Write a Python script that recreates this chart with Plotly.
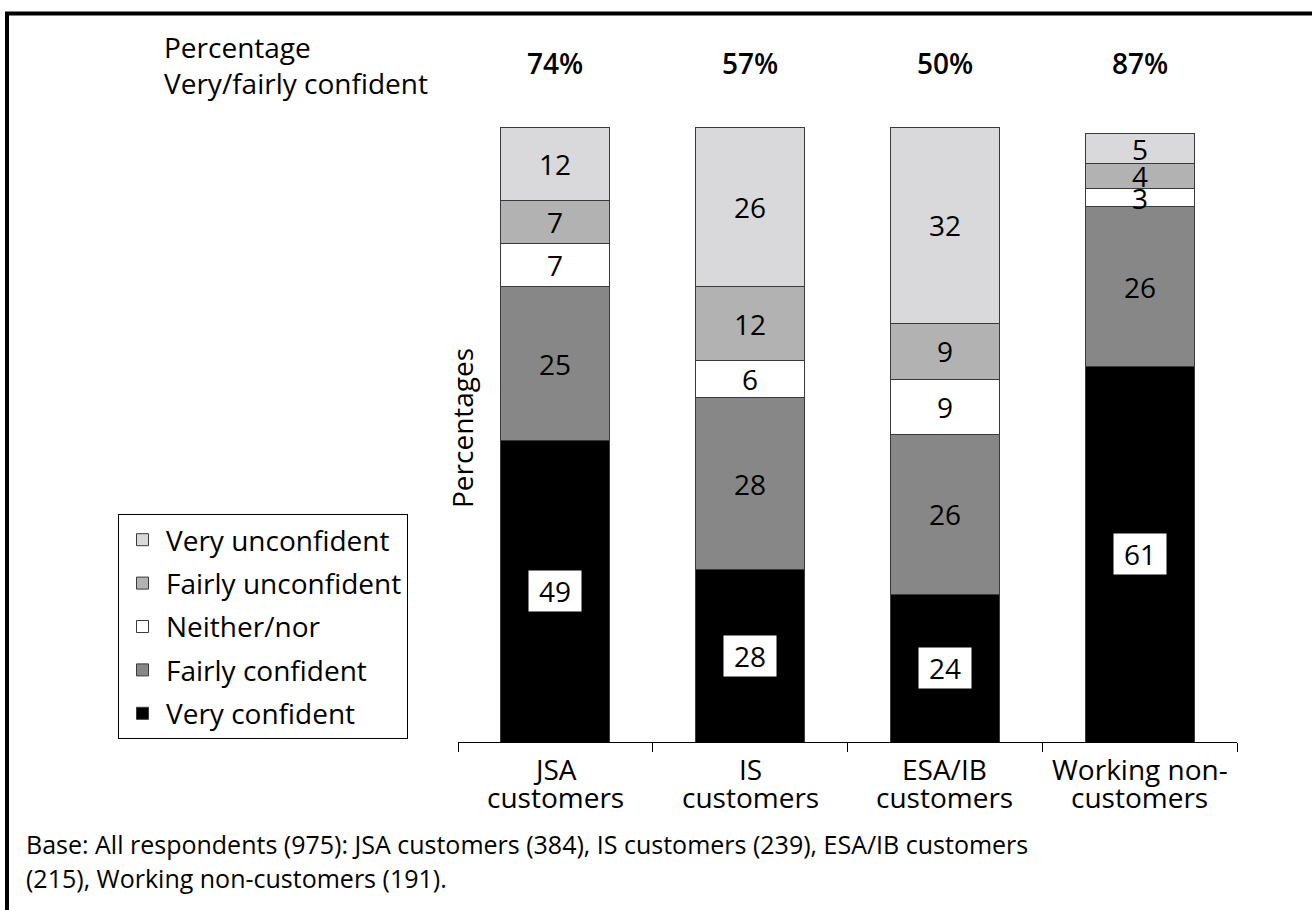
import numpy as np
import plotly.graph_objects as go

categories = ["JSA<br>customers", "IS<br>customers", "ESA/IB<br>customers", "Working non-<br>customers"]
series_names = ["Very confident", "Fairly confident", "Neither/nor", "Fairly unconfident", "Very unconfident"]
very_confident = [49, 28, 24, 61]
fairly_confident = [25, 28, 26, 26]
neither_nor = [7, 6, 9, 3]
fairly_unconfident = [7, 12, 9, 4]
very_unconfident = [12, 26, 32, 5]
top_labels = ["74%", "57%", "50%", "87%"]
top_title = "Percentage<br>Very/fairly confident"
y_title = "Percentages"
note_lines = ["Base: All respondents (975): JSA customers (384), IS customers (239), ESA/IB customers",
              "(215), Working non-customers (191)."]

series_values = [very_confident, fairly_confident, neither_nor, fairly_unconfident, very_unconfident]
colors = ["#000000", "#878787", "#ffffff", "#b2b2b2", "#d9d9db"]

FONT = "Open Sans"
FS = 28

# plot area in pixels
L, R, T, B = 458, 1237, 127, 742
W, H = R - L, B - T


def px(xp):
    return (xp - L) / W


def py(yp):
    return (B - yp) / H


fig = go.Figure()
n = len(series_names)
for i, (name, vals, col) in enumerate(zip(series_names, series_values, colors)):
    fig.add_trace(go.Bar(
        x=categories, y=vals, name=name,
        marker=dict(color=col, line=dict(color="#3a3a3a", width=1)),
        legendgroup=name, legendrank=100 + (n - i), hoverinfo="skip",
    ))

annotations = []
arr = np.array(series_values, dtype=float)
cum = np.cumsum(arr, axis=0)
for si in range(arr.shape[0]):
    for ci, cat in enumerate(categories):
        v = arr[si, ci]
        mid = cum[si, ci] - v / 2
        a = dict(x=cat, y=mid, xref="x", yref="y", text=str(int(v)), showarrow=False,
                 xanchor="center", yanchor="middle",
                 font=dict(family=FONT, size=FS, color="black"))
        if si == 0:
            a.update(bgcolor="white", width=48, height=36, borderpad=2)
        annotations.append(a)

# category labels (two lines each)
for cat in categories:
    l1, l2 = cat.split("<br>")
    annotations.append(dict(x=cat, y=py(769), xref="x", yref="paper", text=l1, showarrow=False,
                            xanchor="center", yanchor="middle", font=dict(family=FONT, size=FS, color="black")))
    annotations.append(dict(x=cat, y=py(797), xref="x", yref="paper", text=l2, showarrow=False,
                            xanchor="center", yanchor="middle", font=dict(family=FONT, size=FS, color="black")))

for ci, cat in enumerate(categories):
    annotations.append(dict(x=cat, y=py(63), xref="x", yref="paper", text=top_labels[ci], showarrow=False,
                            xanchor="center", yanchor="middle",
                            font=dict(family=FONT, size=FS, color="black", weight=600)))

annotations.append(dict(x=px(162), y=py(64.5), xref="paper", yref="paper", xanchor="left", yanchor="middle",
                        align="left", text=top_title, showarrow=False,
                        font=dict(family=FONT, size=FS, color="black")))
annotations.append(dict(x=px(462), y=py(428), xref="paper", yref="paper", text=y_title, textangle=-90,
                        xanchor="center", yanchor="middle",
                        showarrow=False, font=dict(family=FONT, size=FS, color="black")))
for k, yy in enumerate([844, 878]):
    annotations.append(dict(x=px(24), y=py(yy), xref="paper", yref="paper", xanchor="left", yanchor="middle",
                            align="left", text=note_lines[k], showarrow=False,
                            font=dict(family=FONT, size=25, color="black")))

shapes = [
    dict(type="line", xref="paper", yref="paper", x0=px(5), x1=px(1315),
         y0=py(13.5), y1=py(13.5), line=dict(color="black", width=4)),
    dict(type="line", xref="paper", yref="paper", x0=px(7), x1=px(7),
         y0=py(12), y1=py(915), line=dict(color="black", width=4)),
]

fig.update_layout(
    width=1312, height=910,
    margin=dict(l=L, r=1312 - R, t=T, b=910 - B),
    barmode="stack", bargap=0.44,
    plot_bgcolor="white", paper_bgcolor="white",
    font=dict(family=FONT, size=FS, color="black"),
    showlegend=True,
    legend=dict(x=px(118), y=py(514), xanchor="left", yanchor="top",
                traceorder="grouped", tracegroupgap=4, itemwidth=37,
                bordercolor="black", borderwidth=1,
                bgcolor="white", font=dict(family=FONT, size=FS, color="black")),
    xaxis=dict(type="category", tickson="boundaries", ticks="outside", ticklen=9, tickcolor="black",
               showticklabels=False, showline=True, linecolor="black", linewidth=1, showgrid=False,
               range=[-0.5, 3.5]),
    yaxis=dict(range=[0, 100], visible=False, showgrid=False),
    annotations=annotations, shapes=shapes,
)

fig.write_html("out.html", config={"displayModeBar": False},
               post_script="document.body.style.margin='0px';")
